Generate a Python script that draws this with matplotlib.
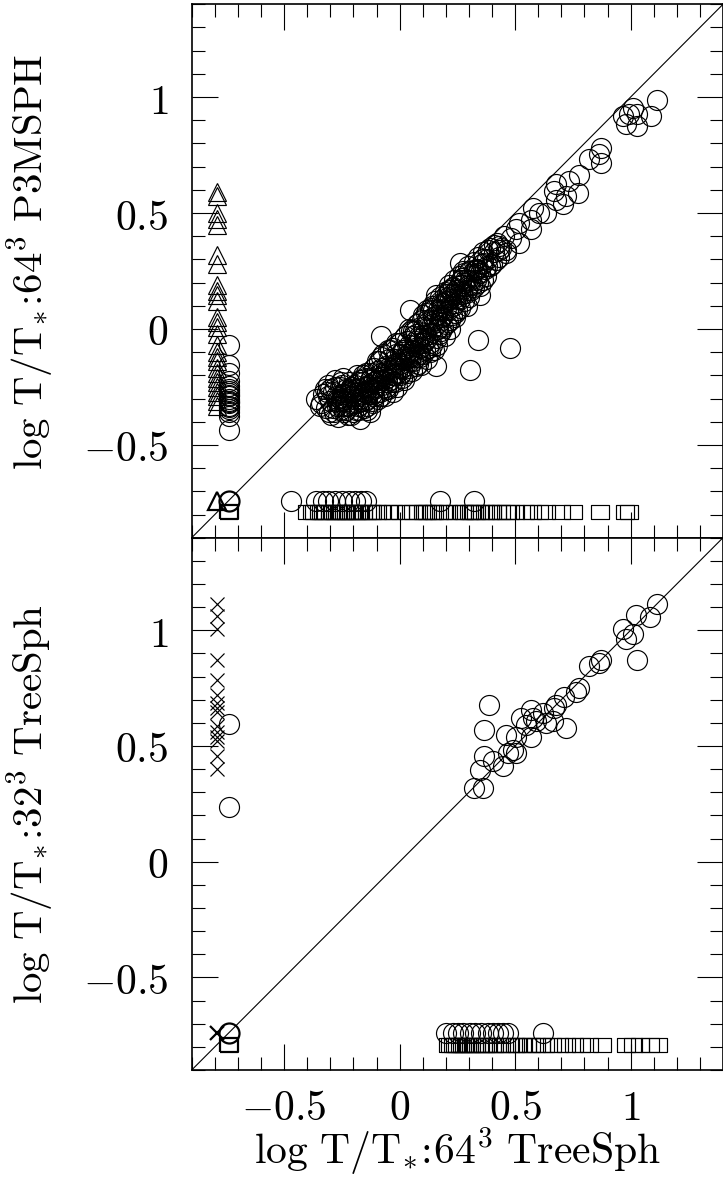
import matplotlib
matplotlib.use("Agg")
import matplotlib.pyplot as plt
from matplotlib.ticker import MultipleLocator, FixedLocator, FixedFormatter

plt.rcParams['mathtext.fontset'] = 'cm'
plt.rcParams['font.family'] = ['DejaVu Serif']

# ---------------- data ----------------
# placeholder values used for objects missing in one of the two runs
MISS_CIRC = -0.74
MISS_OTHER = -0.79

# top panel: matched objects (64^3 TreeSph vs 64^3 P3MSPH)
top_x = [-0.36, -0.33, -0.32, -0.31, -0.30, -0.29, -0.285, -0.28, -0.27, -0.265, -0.26, -0.255, -0.25, -0.245,
         -0.24, -0.235, -0.23, -0.225, -0.22, -0.215, -0.21, -0.205, -0.20, -0.195, -0.19, -0.185, -0.18, -0.175,
         -0.17, -0.165, -0.16, -0.155, -0.15, -0.145, -0.14, -0.135, -0.13, -0.125, -0.12, -0.115, -0.11, -0.105,
         -0.10, -0.095, -0.09, -0.085, -0.08, -0.075, -0.07, -0.065, -0.06, -0.055, -0.05, -0.045, -0.04, -0.035,
         -0.03, -0.025, -0.02, -0.015, -0.01, -0.005, 0.00, 0.005, 0.01, 0.015, 0.02, 0.025, 0.03, 0.035, 0.04,
         0.045, 0.05, 0.055, 0.06, 0.065, 0.07, 0.075, 0.08, 0.085, 0.09, 0.095, 0.10, 0.105, 0.11, 0.115, 0.12,
         0.125, 0.13, 0.135, 0.14, 0.145, 0.15, 0.155, 0.16, 0.165, 0.17, 0.175, 0.18, 0.185, 0.19, 0.195, 0.20,
         0.205, 0.21, 0.215, 0.22, 0.225, 0.23, 0.235, 0.24, 0.245, 0.25, 0.255, 0.26, 0.265, 0.27, 0.275, 0.28,
         0.285, 0.29, 0.295, 0.30, 0.31, 0.315, 0.32, 0.33, 0.335, 0.34, 0.35, 0.355, 0.36, 0.37, 0.38, 0.39,
         0.40, 0.41, 0.42, 0.43, 0.44, 0.45, 0.46,
         -0.30, -0.27, -0.25, -0.23, -0.22, -0.20, -0.19, -0.18, -0.17, -0.16, -0.15, -0.14, -0.13, -0.12, -0.11,
         -0.10, -0.09, -0.08, -0.07, -0.06, -0.05, -0.04, -0.03, -0.02, -0.01, 0.00, 0.01, 0.02, 0.03, 0.04, 0.05,
         0.06, 0.07, 0.08, 0.09, 0.10, 0.11, 0.12, 0.13, 0.14, 0.15, 0.16, 0.17, 0.18, 0.19, 0.20, 0.21, 0.22,
         0.23, 0.24, 0.26, 0.28, 0.30, 0.32, 0.34,
         -0.34, -0.31, -0.29, -0.28, -0.26, -0.24, -0.23, -0.21, -0.20, -0.18, -0.17, -0.15, -0.14, -0.12, -0.11,
         -0.09, -0.08, -0.06, -0.05, -0.03, -0.02, 0.00, 0.01, 0.03, 0.04, 0.06, 0.07, 0.09, 0.10, 0.12,
         0.13, 0.15, 0.16, 0.18, 0.19, 0.21, 0.22, 0.24, 0.25, 0.27, 0.29, 0.31, 0.33, 0.36, 0.38,
         -0.325, -0.305, -0.275, -0.255, -0.235, -0.215, -0.195, -0.175, -0.155, -0.135, -0.115, -0.095, -0.075,
         -0.055, -0.035, -0.015, 0.005, 0.025, 0.045, 0.065, 0.085, 0.105, 0.125, 0.145, 0.165, 0.185, 0.205,
         0.225, 0.245, 0.265,
         -0.345, -0.315, -0.295, -0.27, -0.25, -0.225, -0.205, -0.185, -0.16, -0.14, -0.12, -0.10, -0.08,
         -0.06, -0.04, -0.02, 0.00, 0.02, 0.04, 0.06, 0.08, 0.10, 0.12, 0.14, 0.16, 0.18, 0.20, 0.22, 0.24,
         0.26, 0.28, 0.30, 0.32, 0.34, 0.36, 0.39, 0.41, 0.43,
         0.043, -0.079, 0.195, 0.339, 0.159, 0.303, 0.476, 0.263, 0.094,
         0.159, 0.216, 0.288, 0.346, 0.259, 0.346, 0.303, 0.375, 0.332, 0.36, 0.418, 0.382, 0.461, 0.432, 0.519,
         0.483, 0.504, 0.569, 0.519, 0.569, 0.634, 0.605, 0.576, 0.706, 0.677, 0.721, 0.771, 0.670, 0.677, 0.735,
         0.778, 0.821, 0.872, 0.865, 0.872, 0.98, 1.028, 0.966, 1.088, 1.026, 1.009, 1.114, 0.994]
top_y = [-0.30, -0.28, -0.34, -0.24, -0.31, -0.27, -0.36, -0.22, -0.30, -0.38, -0.25, -0.33, -0.28, -0.21,
         -0.36, -0.30, -0.26, -0.33, -0.23, -0.29, -0.37, -0.27, -0.32, -0.24, -0.35, -0.20, -0.29, -0.26,
         -0.39, -0.31, -0.23, -0.34, -0.27, -0.19, -0.30, -0.24, -0.36, -0.21, -0.28, -0.32, -0.17, -0.25,
         -0.22, -0.30, -0.14, -0.27, -0.19, -0.24, -0.11, -0.29, -0.16, -0.21, -0.26, -0.13, -0.18, -0.23,
         -0.08, -0.15, -0.20, -0.11, -0.25, -0.17, -0.06, -0.13, -0.21, -0.09, -0.16, -0.03, -0.19, -0.11, -0.07,
         -0.14, -0.01, -0.18, -0.09, -0.05, -0.12, 0.02, -0.15, -0.03, -0.08, 0.04, -0.11, 0.00, -0.05, 0.07, -0.13,
         0.03, -0.02, 0.09, -0.07, 0.05, 0.01, 0.12, -0.04, 0.08, 0.03, 0.14, -0.01, 0.10, 0.06, 0.16, 0.02,
         0.12, 0.08, 0.19, 0.04, 0.15, 0.10, 0.21, 0.07, 0.17, 0.13, 0.23, 0.09, 0.19, 0.15, 0.25, 0.12,
         0.21, 0.17, 0.27, 0.14, 0.23, 0.19, 0.29, 0.21, 0.26, 0.31, 0.24, 0.28, 0.33, 0.26, 0.30, 0.35,
         0.28, 0.33, 0.37, 0.31, 0.35, 0.40, 0.34,
         -0.26, -0.33, -0.31, -0.35, -0.27, -0.29, -0.26, -0.33, -0.22, -0.28, -0.31, -0.25, -0.22, -0.31, -0.26,
         -0.18, -0.23, -0.29, -0.20, -0.25, -0.17, -0.22, -0.27, -0.13, -0.19, -0.15, -0.10, -0.22, -0.05, -0.17, -0.12,
         -0.03, -0.16, -0.06, -0.12, 0.01, -0.09, 0.04, -0.06, 0.02, -0.09, 0.06, -0.02, 0.11, 0.01, 0.09, 0.14, 0.00,
         0.18, 0.11, 0.16, 0.20, 0.25, 0.18, 0.24,
         -0.32, -0.29, -0.34, -0.25, -0.35, -0.28, -0.31, -0.25, -0.36, -0.23, -0.30, -0.21, -0.35, -0.19, -0.29,
         -0.21, -0.12, -0.26, -0.09, -0.20, -0.23, -0.11, -0.17, -0.13, 0.00, -0.14, -0.02, -0.04, -0.06, 0.08,
         -0.10, 0.04, -0.07, 0.05, 0.11, 0.03, 0.13, 0.15, 0.08, 0.22, 0.10, 0.17, 0.26, 0.21, 0.27,
         -0.26, -0.36, -0.29, -0.23, -0.33, -0.26, -0.30, -0.35, -0.25, -0.28, -0.23, -0.27, -0.17,
         -0.23, -0.20, -0.06, -0.19, -0.12, -0.10, -0.01, -0.11, -0.03, -0.08, 0.08, 0.00, 0.05, 0.15,
         0.06, 0.14, 0.21,
         -0.33, -0.27, -0.37, -0.31, -0.24, -0.37, -0.25, -0.32, -0.20, -0.33, -0.26, -0.14, -0.22,
         -0.18, -0.09, -0.16, -0.20, -0.09, -0.12, -0.01, -0.10, 0.06, -0.04, 0.10, 0.00, 0.08, 0.12, 0.17, 0.05,
         0.13, 0.24, 0.19, 0.25, 0.20, 0.30, 0.27, 0.36, 0.34,
         0.083, -0.032, -0.032, -0.046, -0.161, -0.176, -0.082, 0.285, -0.154,
         0.148, 0.170, 0.155, 0.148, 0.184, 0.184, 0.213, 0.227, 0.256, 0.285, 0.299, 0.342, 0.328, 0.357, 0.371,
         0.393, 0.429, 0.429, 0.458, 0.472, 0.501, 0.501, 0.522, 0.537, 0.558, 0.573, 0.587, 0.594, 0.623, 0.637,
         0.666, 0.731, 0.717, 0.753, 0.781, 0.882, 0.875, 0.918, 0.918, 0.925, 0.954, 0.986, 0.925]

# top panel: objects found only in the y-run (triangles) / circles with missing x or y
top_tri_y = [0.59, 0.575, 0.50, 0.475, 0.45, 0.32, 0.28, 0.19, 0.165, 0.145, 0.12, 0.05, 0.03, 0.01, -0.02,
             -0.07, -0.10, -0.12, -0.14, -0.17, -0.19, -0.21, -0.23, -0.25, -0.27, -0.29, -0.31, -0.33]
top_leftcirc_y = [-0.068, -0.154, -0.19, -0.226, -0.248, -0.26, -0.268, -0.275, -0.283, -0.29, -0.30, -0.31,
                  -0.315, -0.32, -0.33, -0.338, -0.345, -0.36, -0.377, -0.435]
top_botcirc_x = [-0.468, -0.36, -0.33, -0.31, -0.28, -0.25, -0.22, -0.195, -0.166, -0.144, 0.173, 0.324]
top_sq_x = [-0.40, -0.38, -0.37, -0.35, -0.34, -0.33, -0.32, -0.30, -0.29, -0.28, -0.27, -0.26, -0.25, -0.24,
            -0.23, -0.22, -0.21, -0.20, -0.19, -0.18, -0.17, -0.16, -0.14, -0.13, -0.12, -0.10, -0.08, -0.05,
            -0.03, 0.00, 0.03, 0.06, 0.08, 0.10, 0.11, 0.12, 0.14, 0.15, 0.17, 0.19, 0.21, 0.24, 0.27, 0.28,
            0.30, 0.31, 0.32, 0.33, 0.35, 0.37, 0.39, 0.40, 0.42, 0.44, 0.46, 0.48, 0.50, 0.545, 0.575, 0.605,
            0.635, 0.70, 0.75, 0.868, 0.975, 0.995]

# bottom panel: matched objects (64^3 TreeSph vs 32^3 TreeSph)
bot_x = [1.114, 1.084, 1.023, 0.965, 1.009, 0.98, 1.028, 0.872, 0.865, 0.821, 0.778, 0.764, 0.713, 0.677,
         0.67, 0.62, 0.576, 0.569, 0.634, 0.721, 0.663, 0.526, 0.548, 0.591, 0.569, 0.461, 0.504, 0.49,
         0.468, 0.504, 0.447, 0.403, 0.367, 0.346, 0.324, 0.36, 0.389, 0.367]
bot_y = [1.115, 1.057, 1.064, 1.007, 0.986, 0.964, 0.871, 0.871, 0.857, 0.845, 0.749, 0.735, 0.713, 0.678,
         0.663, 0.642, 0.621, 0.656, 0.599, 0.578, 0.606, 0.621, 0.592, 0.606, 0.541, 0.549, 0.541, 0.484,
         0.47, 0.47, 0.413, 0.434, 0.456, 0.398, 0.32, 0.32, 0.675, 0.57]
bot_cross_y = [1.115, 1.06, 1.005, 0.87, 0.785, 0.72, 0.686, 0.665, 0.648, 0.588, 0.562, 0.537, 0.52,
               0.455, 0.40]
bot_leftcirc_y = [0.596, 0.235]
bot_botcirc_x = [0.20, 0.23, 0.254, 0.276, 0.306, 0.328, 0.351, 0.381, 0.404, 0.426, 0.449, 0.471, 0.621]
bot_sq_x = [0.21, 0.22, 0.23, 0.24, 0.25, 0.26, 0.27, 0.28, 0.29, 0.30, 0.31, 0.32, 0.33, 0.35, 0.36, 0.37,
            0.38, 0.40, 0.41, 0.42, 0.44, 0.46, 0.48, 0.50, 0.51, 0.53, 0.55, 0.57, 0.59, 0.61, 0.63, 0.66,
            0.69, 0.72, 0.755, 0.785, 0.82, 0.875, 0.98, 1.01, 1.04, 1.085, 1.12]

tick_vals = [-0.5, 0, 0.5, 1]
tick_labels = [r'$-0.5$', r'$0$', r'$0.5$', r'$1$']
top_ylabel = r'$\mathrm{log\ T/T_{*}\!{:}\!64^{3}\ P3MSPH}$'
bot_ylabel = r'$\mathrm{log\ T/T_{*}\!{:}\!32^{3}\ TreeSph}$'
xlabel = r'$\mathrm{log\ T/T_{*}\!{:}\!64^{3}\ TreeSph}$'

# ---------------- drawing ----------------
W, H = 723, 1177
fig = plt.figure(figsize=(W / 100, H / 100), dpi=100)
left = 191.7 / W
width = 1.0 - left
ax_top = fig.add_axes([left, 1 - 537.7 / H, width, (537.7 - 4.3) / H])
ax_bot = fig.add_axes([left, 1 - 1070 / H, width, (1070 - 537.7) / H])

FS_TICK = 30
FS_YLAB = 29.5
FS_XLAB = 30
circ = dict(ls='none', marker='o', ms=14.4, mfc='none', mec='black', mew=0.85)
tri = dict(ls='none', marker='^', ms=13, mfc='none', mec='black', mew=0.85)
rect_marker = [(-1, -0.8), (1, -0.8), (1, 0.8), (-1, 0.8), (-1, -0.8)]
sq = dict(ls='none', marker=rect_marker, ms=12.5, mfc='none', mec='black', mew=0.85)
crs = dict(ls='none', marker='x', ms=9.6, mfc='none', mec='black', mew=0.85)

for ax in (ax_top, ax_bot):
    ax.set_xlim(-0.9, 1.4)
    ax.set_ylim(-0.9, 1.4)
    ax.axline((0, 0), slope=1, color='black', lw=0.8)
    ax.xaxis.set_major_locator(FixedLocator(tick_vals))
    ax.yaxis.set_major_locator(FixedLocator(tick_vals))
    ax.xaxis.set_minor_locator(MultipleLocator(0.1))
    ax.yaxis.set_minor_locator(MultipleLocator(0.1))
    ax.yaxis.set_major_formatter(FixedFormatter(tick_labels))
    ax.tick_params(which='both', direction='in', top=True, right=True, width=0.8, color='black')
    ax.tick_params(which='major', length=18.7, labelsize=FS_TICK, pad=17)
    ax.tick_params(which='minor', length=9.4)
    ax.tick_params(axis='x', which='major', pad=12)
    for s in ax.spines.values():
        s.set_linewidth(1.2)

# top panel
ax_top.plot(top_x, top_y, **circ)
ax_top.plot([MISS_OTHER] * len(top_tri_y), top_tri_y, **tri)
ax_top.plot([MISS_CIRC] * len(top_leftcirc_y), top_leftcirc_y, **circ)
ax_top.plot(top_botcirc_x, [MISS_CIRC] * len(top_botcirc_x), **circ)
ax_top.plot(top_sq_x, [MISS_OTHER] * len(top_sq_x), **sq)
ax_top.plot([MISS_OTHER], [MISS_CIRC], **{**tri, 'mew': 1.6})
ax_top.plot([MISS_CIRC], [MISS_CIRC], **{**circ, 'mew': 1.6})
ax_top.plot([MISS_CIRC], [MISS_OTHER], **{**sq, 'mew': 1.6})
ax_top.tick_params(labelbottom=False)
ax_top.set_ylabel(top_ylabel, fontsize=FS_YLAB)
ax_top.yaxis.set_label_coords(-0.257, 0.517)

# bottom panel
ax_bot.plot(bot_x, bot_y, **circ)
ax_bot.plot([MISS_OTHER] * len(bot_cross_y), bot_cross_y, **crs)
ax_bot.plot([MISS_CIRC] * len(bot_leftcirc_y), bot_leftcirc_y, **circ)
ax_bot.plot(bot_botcirc_x, [MISS_CIRC] * len(bot_botcirc_x), **circ)
ax_bot.plot(bot_sq_x, [MISS_OTHER] * len(bot_sq_x), **sq)
ax_bot.plot([MISS_OTHER], [MISS_CIRC], **{**crs, 'mew': 1.6})
ax_bot.plot([MISS_CIRC], [MISS_CIRC], **{**circ, 'mew': 1.6})
ax_bot.plot([MISS_CIRC], [MISS_OTHER], **{**sq, 'mew': 1.6})
ax_bot.xaxis.set_major_formatter(FixedFormatter(tick_labels))
ax_bot.set_ylabel(bot_ylabel, fontsize=FS_YLAB)
ax_bot.yaxis.set_label_coords(-0.257, 0.5)
ax_bot.set_xlabel(xlabel, fontsize=FS_XLAB)
ax_bot.xaxis.set_label_coords(0.5, -0.104)

fig.savefig('out.png', dpi=100)
